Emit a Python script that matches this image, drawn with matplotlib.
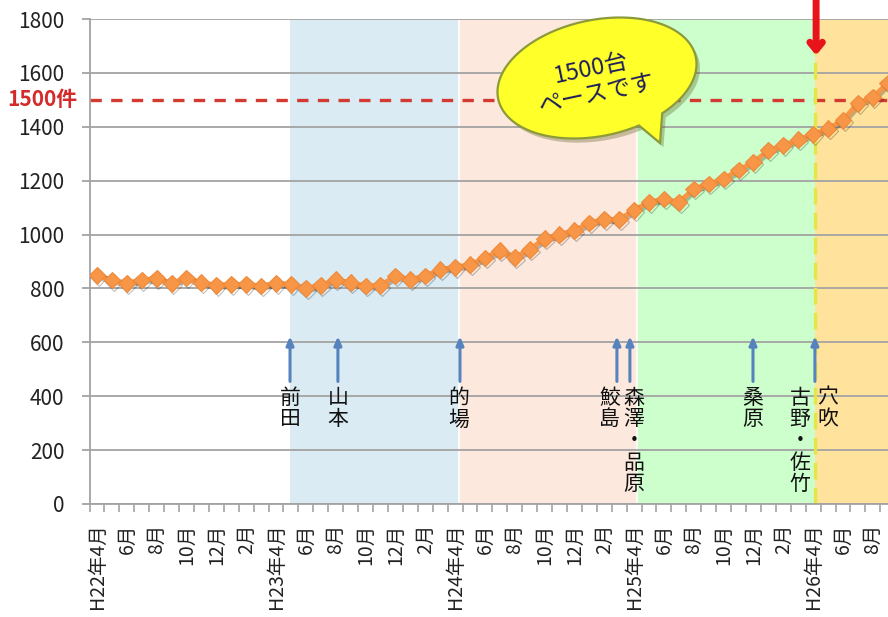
import numpy as np
import matplotlib
matplotlib.use("Agg")
import matplotlib.pyplot as plt
from matplotlib.path import Path
from matplotlib.patches import PathPatch
from matplotlib import patheffects as pe
from matplotlib.ticker import FixedLocator

plt.rcParams['font.family'] = ['Noto Sans CJK JP', 'DejaVu Sans']

# ---- data -------------------------------------------------------------
month_labels = [
    "H22年4月", "5月", "6月", "7月", "8月", "9月", "10月", "11月", "12月", "1月", "2月", "3月",
    "H23年4月", "5月", "6月", "7月", "8月", "9月", "10月", "11月", "12月", "1月", "2月", "3月",
    "H24年4月", "5月", "6月", "7月", "8月", "9月", "10月", "11月", "12月", "1月", "2月", "3月",
    "H25年4月", "5月", "6月", "7月", "8月", "9月", "10月", "11月", "12月", "1月", "2月", "3月",
    "H26年4月", "5月", "6月", "7月", "8月", "9月",
]

counts = [
    849, 831, 819, 831, 837, 819, 839, 821, 812, 815, 815, 809,
    819, 815, 800, 811, 833, 821, 809, 811, 846, 833, 846, 870,
    879, 888, 913, 940, 915, 944, 985, 1000, 1015, 1043, 1056, 1056,
    1090, 1120, 1132, 1119, 1169, 1188, 1206, 1240, 1268, 1312, 1331, 1352,
    1372, 1393, 1424, 1487, 1509, 1562,
]

target = 1500

# shaded periods (start, end, colour)
period_edges = [12.94, 24.27, 36.2, 48.12, 54.0]
period_colors = ["#daebf4", "#fce8dc", "#ccffcc", "#ffe29c"]

# arrivals: arrow position
arrow_x = [12.94, 16.15, 24.33, 34.85, 35.72, 43.97, 48.12]
# names written vertically below the arrows
names = ["前田", "山本", "的場", "鮫島", "森澤・品原", "桑原", "古野・佐竹", "穴吹"]
name_x = [12.94, 16.15, 24.26, 34.38, 35.99, 43.97, 47.12, 48.99]

# ---- figure -------------------------------------------------------------
W, H = 888, 617
fig = plt.figure(figsize=(W / 100, H / 100), dpi=100)
fig.patch.set_facecolor("white")

ax_left, ax_bottom, ax_top = 89.5, 504, 19
n = len(counts)
cat_w = 14.92
ax = fig.add_axes([ax_left / W, (H - ax_bottom) / H,
                   n * cat_w / W, (ax_bottom - ax_top) / H])
ax.set_xlim(-0.5, n - 0.5)
ax.set_ylim(0, 1800)
ax.set_facecolor("white")

grid_c = "#a3a3a3"
for s in ("top", "right"):
    ax.spines[s].set_visible(False)
for s in ("left", "bottom"):
    ax.spines[s].set_color(grid_c)
    ax.spines[s].set_linewidth(1.3)

# background periods
for i, c in enumerate(period_colors):
    ax.axvspan(period_edges[i], period_edges[i + 1], color=c, zorder=0, lw=0)
for e in period_edges[1:3]:
    ax.axvline(e, color="white", lw=1.2, zorder=0.5)

# gridlines
ax.set_yticks(np.arange(0, 1801, 200))
ax.yaxis.grid(True, color=grid_c, lw=1.3, zorder=1)
ax.set_axisbelow(True)
ax.tick_params(axis="y", length=6, width=1.3, color=grid_c, labelsize=15,
               pad=12, labelcolor="#222222")

# x ticks: marks between months, labels every second month
ax.xaxis.set_major_locator(FixedLocator(np.arange(0, n, 2)))
ax.set_xticklabels(month_labels[::2], rotation=90, fontsize=14,
                   color="#222222")
ax.xaxis.set_minor_locator(FixedLocator(np.arange(-0.5, n, 1)))
ax.tick_params(axis="x", which="major", length=0, pad=14)
ax.tick_params(axis="x", which="minor", length=6, width=1.2, color=grid_c)

# target line
ax.axhline(target, color="#d23a32", lw=2.4, ls=(0, (3.4, 2.8)), zorder=2)
ax.text(-0.0145, target, "1500件", transform=ax.get_yaxis_transform(),
        ha="right", va="center", color="#d42a2a", fontsize=15,
        fontweight="bold")

# start-of-FY26 marker
ax.axvline(48.12, color="#e4e645", lw=2.4, ls=(0, (5, 2.5)), zorder=2)

# series
x = np.arange(n)
ax.plot(x, counts, color="#f79646", lw=3.6, marker="D", ms=8.5,
        markeredgecolor="#f08a3a", markeredgewidth=0.8, zorder=4,
        path_effects=[pe.SimpleLineShadow(offset=(1.2, -1.5), alpha=0.25),
                      pe.Normal()])

# arrival arrows and names
for xa in arrow_x:
    ax.annotate("", xy=(xa, 622), xytext=(xa, 455),
                arrowprops=dict(arrowstyle="-|>,head_length=0.5,head_width=0.22",
                                color="#5683bd", lw=2.2,
                                shrinkA=0, shrinkB=0), zorder=3)
for nm, xn in zip(names, name_x):
    ax.text(xn, 435, "\n".join(nm), ha="center", va="top", fontsize=15,
            linespacing=0.98, color="#111111", zorder=3)

# red arrow above the plot
ax.annotate("", xy=(48.2, 1665), xytext=(48.2, 1880),
            arrowprops=dict(arrowstyle="->,head_length=0.55,head_width=0.45",
                            color="#e8141c", lw=5, shrinkA=0, shrinkB=0),
            annotation_clip=False, zorder=6)

# ---- speech bubble -------------------------------------------------------
cx, cy = 597, H - 78
a, b, rot = 101, 58, np.deg2rad(12)
t = np.deg2rad(np.linspace(-56, 288, 160))
ex = a * np.cos(t)
ey = b * np.sin(t)
px = cx + ex * np.cos(rot) - ey * np.sin(rot)
py = cy + ex * np.sin(rot) + ey * np.cos(rot)
tip = (660, H - 143)
verts = list(zip(px, py)) + [tip, (px[0], py[0])]
codes = [Path.MOVETO] + [Path.LINETO] * (len(verts) - 2) + [Path.CLOSEPOLY]
verts = [(vx / W, vy / H) for vx, vy in verts]
bubble = PathPatch(Path(verts, codes), transform=fig.transFigure,
                   facecolor="#ffff2a", edgecolor="#8c9a3a", lw=1.6,
                   zorder=7,
                   path_effects=[pe.withSimplePatchShadow(offset=(2.5, -3),
                                                          alpha=0.3)])
fig.patches.append(bubble)
fig.text(594 / W, (H - 82) / H, "1500台\nペースです", rotation=12,
         ha="center", va="center", multialignment="center",
         fontsize=17, linespacing=1.25, color="#1e1e5a",
         rotation_mode="anchor", zorder=8)

fig.savefig("out.png", dpi=100)
